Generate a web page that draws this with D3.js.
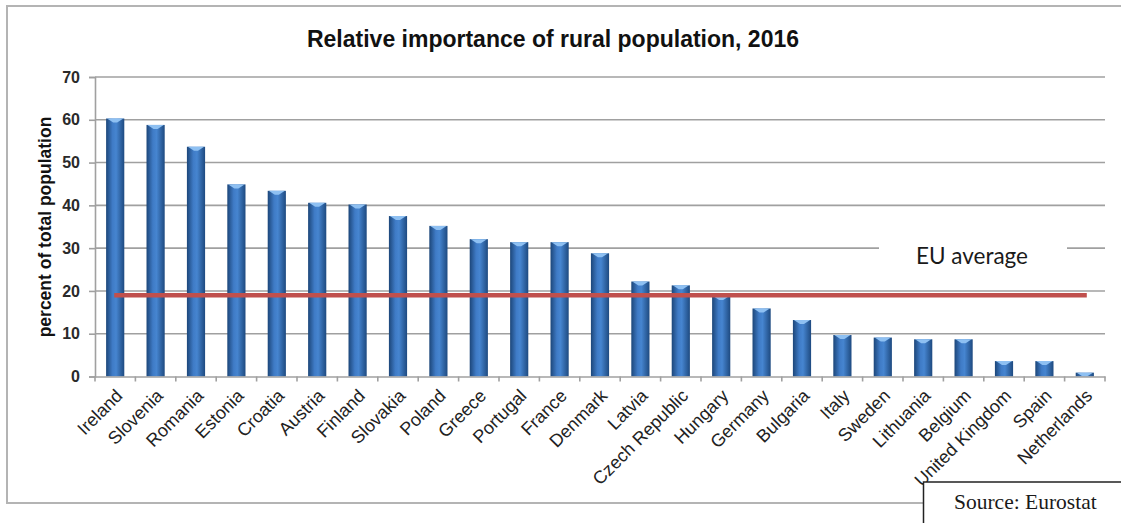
<!DOCTYPE html>
<html>
<head>
<meta charset="utf-8">
<script src="https://cdn.jsdelivr.net/npm/d3@7"></script>
<style>
  html, body { margin: 0; padding: 0; background: #fff; }
  svg { display: block; }
</style>
</head>
<body>
<svg id="chart" width="1121" height="523"></svg>
<script>
// Rural population share by country, 2016 (percent of total population)
const countries = ["Ireland", "Slovenia", "Romania", "Estonia", "Croatia", "Austria", "Finland",
  "Slovakia", "Poland", "Greece", "Portugal", "France", "Denmark", "Latvia", "Czech Republic",
  "Hungary", "Germany", "Bulgaria", "Italy", "Sweden", "Lithuania", "Belgium", "United Kingdom",
  "Spain", "Netherlands"];
const ruralShare = [60.3, 58.8, 53.7, 44.9, 43.4, 40.6, 40.2, 37.5, 35.2, 32.1, 31.4, 31.4, 28.8,
  22.2, 21.3, 18.8, 15.9, 13.2, 9.7, 9.1, 8.7, 8.7, 3.6, 3.6, 0.9];
const euAverage = 19.0;
const yTicks = [0, 10, 20, 30, 40, 50, 60, 70];

const svg = d3.select("#chart");
const plotLeft = 95, plotRight = 1105, plotTop = 77, plotBottom = 376.5;
const sans = "Liberation Sans, Arial, sans-serif";

const x = d3.scaleBand().domain(countries).range([plotLeft, plotRight]).paddingInner(0.55).paddingOuter(0.275);
const y = d3.scaleLinear().domain([0, 70]).range([plotBottom, plotTop]);

// bar shading: dark edges, lighter middle
const defs = svg.append("defs");
const grad = defs.append("linearGradient").attr("id", "barGrad").attr("x1", "0").attr("x2", "1").attr("y1", "0").attr("y2", "0");
grad.append("stop").attr("offset", "0%").attr("stop-color", "#1c4679");
grad.append("stop").attr("offset", "35%").attr("stop-color", "#3f7bc6");
grad.append("stop").attr("offset", "55%").attr("stop-color", "#4685d0");
grad.append("stop").attr("offset", "100%").attr("stop-color", "#1e4a80");

// outer frame
svg.append("rect").attr("x", 7).attr("y", 6).attr("width", 1130).attr("height", 497)
  .attr("fill", "none").attr("stroke", "#b4b4b4").attr("stroke-width", 2);

// title
svg.append("text").attr("x", 553).attr("y", 47).attr("text-anchor", "middle")
  .attr("font-family", sans).attr("font-weight", "bold")
  .attr("font-size", 23).attr("fill", "#111")
  .text("Relative importance of rural population, 2016");

// horizontal gridlines
svg.append("g").selectAll("line").data(yTicks.filter(d => d > 0)).join("line")
  .attr("x1", plotLeft).attr("x2", plotRight).attr("y1", d => y(d)).attr("y2", d => y(d))
  .attr("stroke", "#a0a0a0").attr("stroke-width", 1.6);

// y axis
const yAxis = svg.append("g").attr("transform", `translate(${plotLeft},0)`)
  .call(d3.axisLeft(y).tickValues(yTicks).tickSize(6).tickPadding(9));
yAxis.select(".domain").attr("stroke", "#a0a0a0").attr("stroke-width", 1.6);
yAxis.selectAll(".tick line").attr("stroke", "#a0a0a0").attr("stroke-width", 1.6);
yAxis.selectAll(".tick text").attr("font-family", sans).attr("font-weight", "bold")
  .attr("font-size", 16).attr("fill", "#2a2a2a");

// y axis title
svg.append("text").attr("transform", "translate(51,227) rotate(-90)").attr("text-anchor", "middle")
  .attr("font-family", sans).attr("font-weight", "bold")
  .attr("font-size", 17.5).attr("fill", "#111").text("percent of total population");

// EU average label with white backing over the gridline
svg.append("rect").attr("x", 879).attr("y", 241).attr("width", 188).attr("height", 32).attr("fill", "#fff");
svg.append("text").attr("x", 972).attr("y", 264).attr("text-anchor", "middle")
  .attr("font-family", "Lato, Carlito, sans-serif").attr("font-size", 22.5).attr("fill", "#1a1a1a")
  .text("EU average");

// bars
const bars = svg.append("g").selectAll("g").data(countries).join("g");
bars.append("rect")
  .attr("x", d => x(d)).attr("width", x.bandwidth())
  .attr("y", (d, i) => y(ruralShare[i])).attr("height", (d, i) => plotBottom - y(ruralShare[i]))
  .attr("fill", "url(#barGrad)");
// lighter cap at the top of each bar
bars.append("path")
  .attr("d", (d, i) => {
    const x0 = x(d), w = x.bandwidth(), yt = y(ruralShare[i]);
    const h = Math.min(4, plotBottom - yt);
    return `M${x0 + 1},${yt} L${x0 + w - 1},${yt} L${x0 + w / 2 + 2},${yt + h} L${x0 + w / 2 - 2},${yt + h} Z`;
  })
  .attr("fill", "#8ec0f2");

// x axis
const xAxis = svg.append("g").attr("transform", `translate(0,${plotBottom})`)
  .call(d3.axisBottom(x).tickSize(0).tickPadding(10));
xAxis.select(".domain").attr("stroke", "#a0a0a0").attr("stroke-width", 1.6);
// ticks between categories
xAxis.append("g").selectAll("line").data(d3.range(countries.length + 1)).join("line")
  .attr("x1", i => plotLeft + i * x.step()).attr("x2", i => plotLeft + i * x.step())
  .attr("y1", 0).attr("y2", 5).attr("stroke", "#a0a0a0").attr("stroke-width", 1.6);
xAxis.selectAll(".tick text")
  .attr("font-family", sans).attr("font-size", 18).attr("fill", "#222")
  .attr("text-anchor", "end").attr("dy", "0.35em")
  .attr("x", 0).attr("y", 0)
  .attr("transform", "translate(4,16) rotate(-45)");

// EU average line
svg.append("line")
  .attr("x1", x(countries[0]) + x.bandwidth() / 2 - 1)
  .attr("x2", x(countries[countries.length - 1]) + x.bandwidth() / 2 + 2)
  .attr("y1", y(euAverage)).attr("y2", y(euAverage))
  .attr("stroke", "#c0504d").attr("stroke-width", 4.5);

// source box
svg.append("rect").attr("x", 923.5).attr("y", 482).attr("width", 220).attr("height", 60)
  .attr("fill", "#fff").attr("stroke", "#222").attr("stroke-width", 1.5);
svg.append("text").attr("x", 954).attr("y", 509)
  .attr("font-family", "Liberation Serif, Times New Roman, serif").attr("font-size", 21.5).attr("fill", "#1a1a1a")
  .text("Source: Eurostat");
</script>
</body>
</html>
